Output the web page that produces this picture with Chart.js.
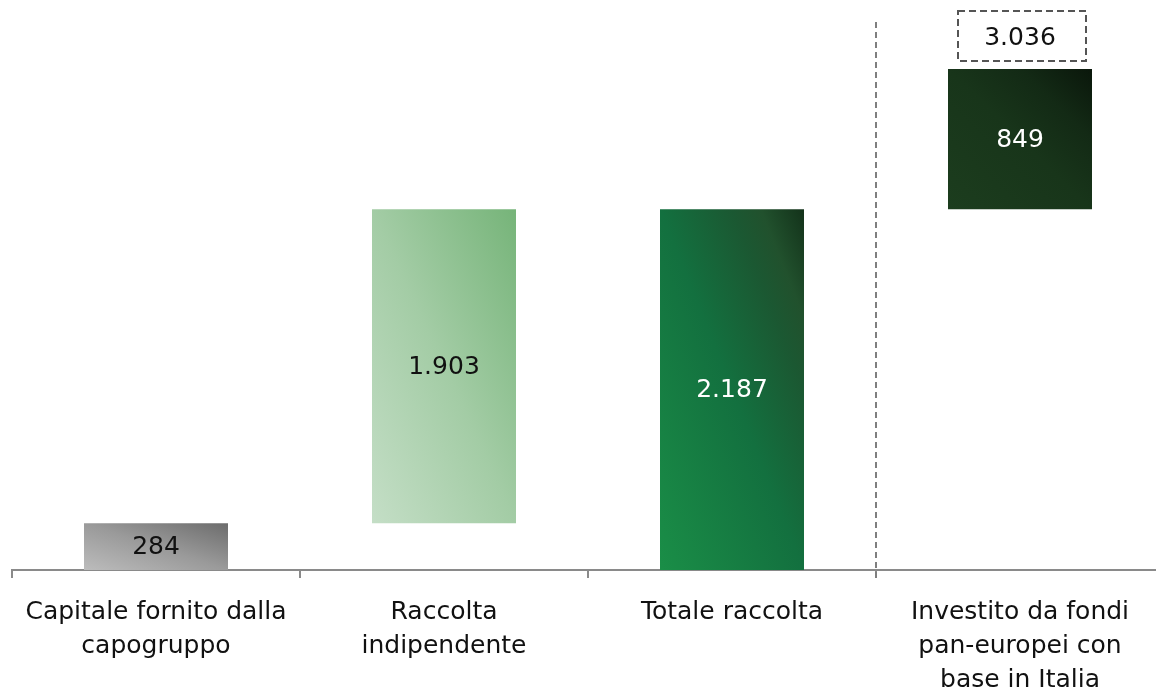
<!DOCTYPE html>
<html>
<head>
<meta charset="utf-8">
<script src="https://cdn.jsdelivr.net/npm/chart.js@4.4.1/dist/chart.umd.min.js"></script>
<style>
  html, body { margin: 0; padding: 0; background: #fff; overflow: hidden; }
  #wrap { position: relative; width: 1176px; height: 692px; }
</style>
</head>
<body>
<div id="wrap"><canvas id="c"></canvas></div>
<script>
// ---- data ----
const categories = [
  ['Capitale fornito dalla', 'capogruppo'],
  ['Raccolta', 'indipendente'],
  ['Totale raccolta'],
  ['Investito da fondi', 'pan-europei con', 'base in Italia']
];
const barStarts = [0, 284, 0, 2187];
const barEnds   = [284, 2187, 2187, 3036];
const valueLabels = ['284', '1.903', '2.187', '849'];
const totalValue = 3036;
const totalLabel = '3.036';

// ---- styles ----
const gradStops = [
  [[0, '#bcbcbc'], [0.5, '#9a9a9a'], [1, '#6c6c6c']],
  [[0, '#c4dec6'], [0.5, '#a3cca5'], [1, '#76b479']],
  [[0, '#1a8e47'], [0.5, '#13703f'], [0.75, '#1b5832'], [0.85, '#21512d'], [1, '#13321a']],
  [[0, '#1c3d1e'], [0.5, '#18351a'], [0.75, '#132a15'], [1, '#0a170b']]
];
const labelColors = ['#111111', '#111111', '#ffffff', '#ffffff'];
const FONT = '"DejaVu Sans", Verdana, sans-serif';
const FS = 25;

function barGradient(ctx) {
  const chart = ctx.chart;
  if (!chart.chartArea || ctx.type !== 'data') return '#888';
  const xs = chart.scales.x, ys = chart.scales.y;
  const i = ctx.dataIndex;
  const cx = xs.getPixelForValue(i);
  const w = (xs.width / categories.length) * 0.5;
  const top = ys.getPixelForValue(barEnds[i]);
  const bot = ys.getPixelForValue(barStarts[i]);
  const h = Math.max(1, bot - top);
  const cy = (top + bot) / 2;
  // scaled 45deg gradient: the top-left/bottom-right diagonal is an isoline
  const L = Math.hypot(w, h);
  const dx = h / L, dy = -w / L;
  const e = (w * h) / L;
  const g = chart.ctx.createLinearGradient(cx - dx * e, cy - dy * e, cx + dx * e, cy + dy * e);
  gradStops[i].forEach(s => g.addColorStop(s[0], s[1]));
  return g;
}

const overlayPlugin = {
  id: 'overlay',
  afterDatasetsDraw(chart) {
    const c = chart.ctx;
    const xs = chart.scales.x, ys = chart.scales.y;
    const meta = chart.getDatasetMeta(0);
    c.save();
    c.font = FS + 'px ' + FONT;
    c.textAlign = 'center';
    c.textBaseline = 'middle';
    meta.data.forEach((el, i) => {
      const p = el.getProps(['x', 'y', 'base'], true);
      c.fillStyle = labelColors[i];
      c.fillText(valueLabels[i], p.x, (p.y + p.base) / 2 + 1);
    });
    // dashed separator
    const sepX = (xs.getPixelForValue(2) + xs.getPixelForValue(3)) / 2;
    c.strokeStyle = '#7f7f7f';
    c.lineWidth = 2;
    c.setLineDash([6, 4]);
    c.beginPath();
    c.moveTo(sepX, 22);
    c.lineTo(sepX, chart.chartArea.bottom + 8);
    c.stroke();
    // total box
    const tx = xs.getPixelForValue(3);
    const ty = ys.getPixelForValue(totalValue);
    const bw = 128, bh = 50;
    const bx = Math.round(tx - bw / 2) + 2, by = Math.round(ty - 8 - bh);
    c.strokeStyle = '#555555';
    c.lineWidth = 2;
    c.setLineDash([7, 4]);
    c.strokeRect(bx, by, bw, bh);
    c.setLineDash([]);
    c.fillStyle = '#111111';
    c.fillText(totalLabel, tx, by + bh / 2 + 2);
    c.restore();
  }
};

new Chart(document.getElementById('c'), {
  type: 'bar',
  data: {
    labels: categories,
    datasets: [{
      data: barStarts.map((s, i) => [s, barEnds[i]]),
      backgroundColor: barGradient,
      borderWidth: 0,
      borderSkipped: false,
      categoryPercentage: 1,
      barPercentage: 0.5
    }]
  },
  options: {
    responsive: true,
    maintainAspectRatio: false,
    animation: false,
    layout: { padding: { top: 10, left: 12, right: 12, bottom: 0 } },
    plugins: { legend: { display: false }, tooltip: { enabled: false } },
    scales: {
      x: {
        offset: true,
        grid: { offset: true, drawOnChartArea: false, drawTicks: true, tickLength: 8, color: '#8a8a8a', lineWidth: 2 },
        border: { display: true, color: '#8a8a8a', width: 2 },
        ticks: {
          padding: 17,
          color: '#111111',
          maxRotation: 0,
          autoSkip: false,
          font: { family: FONT, size: FS, lineHeight: '34px' }
        },
        afterFit(scale) { scale.height = 122; }
      },
      y: {
        display: false,
        min: 0,
        max: 3394
      }
    }
  },
  plugins: [overlayPlugin]
});
</script>
</body>
</html>
